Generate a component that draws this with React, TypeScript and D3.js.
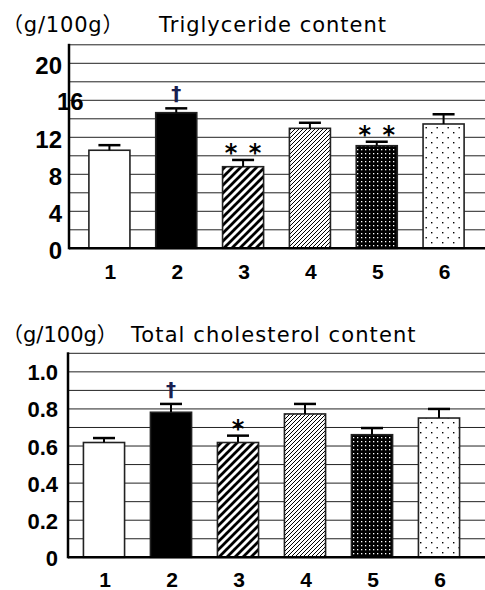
import { useEffect, useRef } from 'react';
import * as d3 from 'd3';

const groups = ['1', '2', '3', '4', '5', '6'];

const tgMeans = [10.6, 14.66, 8.82, 12.97, 11.09, 13.44];
const tgErrors = [0.55, 0.47, 0.73, 0.6, 0.43, 1.05];
const tgTicks = [0, 4, 8, 12, 20];
const tgMarks = ['', '†', '**', '', '**', ''];

const tcMeans = [0.619, 0.782, 0.619, 0.773, 0.661, 0.751];
const tcErrors = [0.024, 0.045, 0.037, 0.054, 0.036, 0.049];
const tcTicks = [0, 0.2, 0.4, 0.6, 0.8, 1.0];
const tcMarks = ['', '†', '*', '', '', ''];

const fills = ['#fff', '#000', 'url(#wide)', 'url(#fine)', 'url(#dotsW)', 'url(#dotsB)'];

const W = 485, H = 590;
const numFont = 'Liberation Sans, Arial, sans-serif';
const titleFont = 'DejaVu Sans, Noto Sans CJK JP, sans-serif';

function drawPanel(svg, opt) {
  const g = svg.append('g');
  const y = d3.scaleLinear().domain([0, opt.max]).range([opt.y0, opt.yTop]);
  const x = d3.scaleBand().domain(groups).range(opt.xr).paddingInner(0.386).paddingOuter(0.193);

  // gridlines
  g.selectAll('.grid').data(d3.range(0, opt.max + opt.step / 2, opt.step).slice(1))
    .enter().append('line')
    .attr('x1', opt.axisX).attr('x2', W)
    .attr('y1', d => y(d)).attr('y2', d => y(d))
    .attr('stroke', '#222').attr('stroke-width', 1);

  // bars
  g.selectAll('.bar').data(groups).enter().append('rect')
    .attr('x', d => x(d)).attr('width', x.bandwidth())
    .attr('y', (d, i) => y(opt.means[i]))
    .attr('height', (d, i) => opt.y0 - y(opt.means[i]))
    .attr('fill', (d, i) => fills[i])
    .attr('stroke', '#222').attr('stroke-width', 1.6);

  // error bars + significance marks
  groups.forEach((d, i) => {
    const cx = x(d) + x.bandwidth() / 2;
    const top = y(opt.means[i] + opt.errs[i]);
    g.append('line').attr('x1', cx).attr('x2', cx)
      .attr('y1', y(opt.means[i])).attr('y2', top)
      .attr('stroke', '#000').attr('stroke-width', 2);
    g.append('line').attr('x1', cx - 11).attr('x2', cx + 11)
      .attr('y1', top).attr('y2', top)
      .attr('stroke', '#000').attr('stroke-width', 2.5);
    const m = opt.marks[i];
    if (m === '†') {
      g.append('text').attr('x', cx).attr('y', top - 8)
        .attr('text-anchor', 'middle')
        .attr('font-family', 'DejaVu Sans, sans-serif')
        .attr('font-weight', 'bold')
        .attr('font-size', 20)
        .attr('fill', '#1a2050')
        .text('†');
    } else if (m) {
      const offs = m.length === 2 ? [-12, 12] : [0];
      offs.forEach(o => {
        g.append('text').attr('x', cx + o).attr('y', top + 1)
          .attr('text-anchor', 'middle')
          .attr('font-family', 'DejaVu Sans, sans-serif')
          .attr('font-weight', 'bold')
          .attr('font-size', 24)
          .text('*');
      });
    }
  });

  // axes
  g.append('line').attr('x1', opt.axisX).attr('x2', W)
    .attr('y1', opt.y0).attr('y2', opt.y0).attr('stroke', '#000').attr('stroke-width', 2.5);
  g.append('line').attr('x1', opt.axisX).attr('x2', opt.axisX)
    .attr('y1', opt.y0 + 1).attr('y2', opt.yTop - 1).attr('stroke', '#000').attr('stroke-width', 2.5);

  // y tick labels
  g.selectAll('.yl').data(opt.ticks).enter().append('text')
    .attr('x', opt.axisX - opt.labelGap)
    .attr('y', d => y(d) + opt.labelDy)
    .attr('text-anchor', 'end')
    .attr('font-family', numFont)
    .attr('font-weight', 'bold').attr('font-size', opt.tickSize)
    .text(d => opt.fmt(d));

  // x labels
  g.selectAll('.xl').data(groups).enter().append('text')
    .attr('x', d => x(d) + x.bandwidth() / 2 + 1)
    .attr('y', opt.y0 + opt.xDy)
    .attr('text-anchor', 'middle')
    .attr('font-family', numFont)
    .attr('font-weight', 'bold').attr('font-size', 21)
    .text(d => d);

  // titles
  g.append('text').attr('x', opt.unitX).attr('y', opt.titleY)
    .attr('font-family', titleFont).attr('font-size', 21)
    .attr('letter-spacing', opt.unitSp)
    .text('（g/100g）');
  g.append('text').attr('x', opt.titleX).attr('y', opt.titleY)
    .attr('font-family', titleFont).attr('font-size', 21)
    .attr('letter-spacing', opt.titleSp)
    .text(opt.title);
  return { g, y };
}

export default function App() {
  const ref = useRef(null);
  useEffect(() => {
    const svg = d3.select(ref.current);
    svg.selectAll('*').remove();
    const defs = svg.append('defs');

    const wide = defs.append('pattern').attr('id', 'wide').attr('patternUnits', 'userSpaceOnUse')
      .attr('width', 8).attr('height', 8);
    wide.append('rect').attr('width', 8).attr('height', 8).attr('fill', '#fff');
    wide.append('path').attr('d', 'M-2,2 L2,-2 M0,8 L8,0 M6,10 L10,6')
      .attr('stroke', '#000').attr('stroke-width', 2.8);

    const fine = defs.append('pattern').attr('id', 'fine').attr('patternUnits', 'userSpaceOnUse')
      .attr('width', 4).attr('height', 4);
    fine.append('rect').attr('width', 4).attr('height', 4).attr('fill', '#fff');
    fine.append('path').attr('d', 'M-1,1 L1,-1 M0,4 L4,0 M3,5 L5,3')
      .attr('stroke', '#000').attr('stroke-width', 1);

    const dotsW = defs.append('pattern').attr('id', 'dotsW').attr('patternUnits', 'userSpaceOnUse')
      .attr('width', 4).attr('height', 4);
    dotsW.append('rect').attr('width', 4).attr('height', 4).attr('fill', '#000');
    dotsW.append('rect').attr('x', 1).attr('y', 1).attr('width', 1.3).attr('height', 1.3).attr('fill', '#fff');

    const dotsB = defs.append('pattern').attr('id', 'dotsB').attr('patternUnits', 'userSpaceOnUse')
      .attr('width', 11).attr('height', 10);
    dotsB.append('rect').attr('width', 11).attr('height', 10).attr('fill', '#fff');
    dotsB.append('rect').attr('x', 2).attr('y', 2).attr('width', 1.4).attr('height', 1.4).attr('fill', '#000');
    dotsB.append('rect').attr('x', 7.5).attr('y', 7).attr('width', 1.4).attr('height', 1.4).attr('fill', '#000');

    drawPanel(svg, {
      means: tgMeans, errs: tgErrors, ticks: tgTicks, marks: tgMarks,
      max: 22, step: 2, y0: 248.3, yTop: 44.8, axisX: 69, xr: [76, 477],
      tickSize: 24, labelGap: 7, labelDy: 10.5, xDy: 31,
      fmt: d => String(d), title: 'Triglyceride content', titleX: 159, titleSp: 1,
      unitX: 2, unitSp: 0.8, titleY: 32,
    });
    // the "16" label sits over the axis in the source
    const yT = d3.scaleLinear().domain([0, 22]).range([248.3, 44.8]);
    svg.append('text').attr('x', 57).attr('y', yT(16) + 10)
      .attr('font-family', numFont)
      .attr('font-weight', 'bold').attr('font-size', 24).text('16');

    drawPanel(svg, {
      means: tcMeans, errs: tcErrors, ticks: tcTicks, marks: tcMarks,
      max: 1.1, step: 0.1, y0: 557.3, yTop: 353.3, axisX: 68, xr: [70.5, 472.5],
      tickSize: 22, labelGap: 10, labelDy: 8.5, xDy: 29.5,
      fmt: d => (d === 0 ? '0' : d.toFixed(1)), title: 'Total cholesterol content', titleX: 131, titleSp: 1.1,
      unitX: 2, unitSp: 0, titleY: 342,
    });
  }, []);
  return (
    <svg ref={ref} width={W} height={H}
      style={{ position: 'absolute', left: 0, top: 0, background: '#fff' }} />
  );
}
